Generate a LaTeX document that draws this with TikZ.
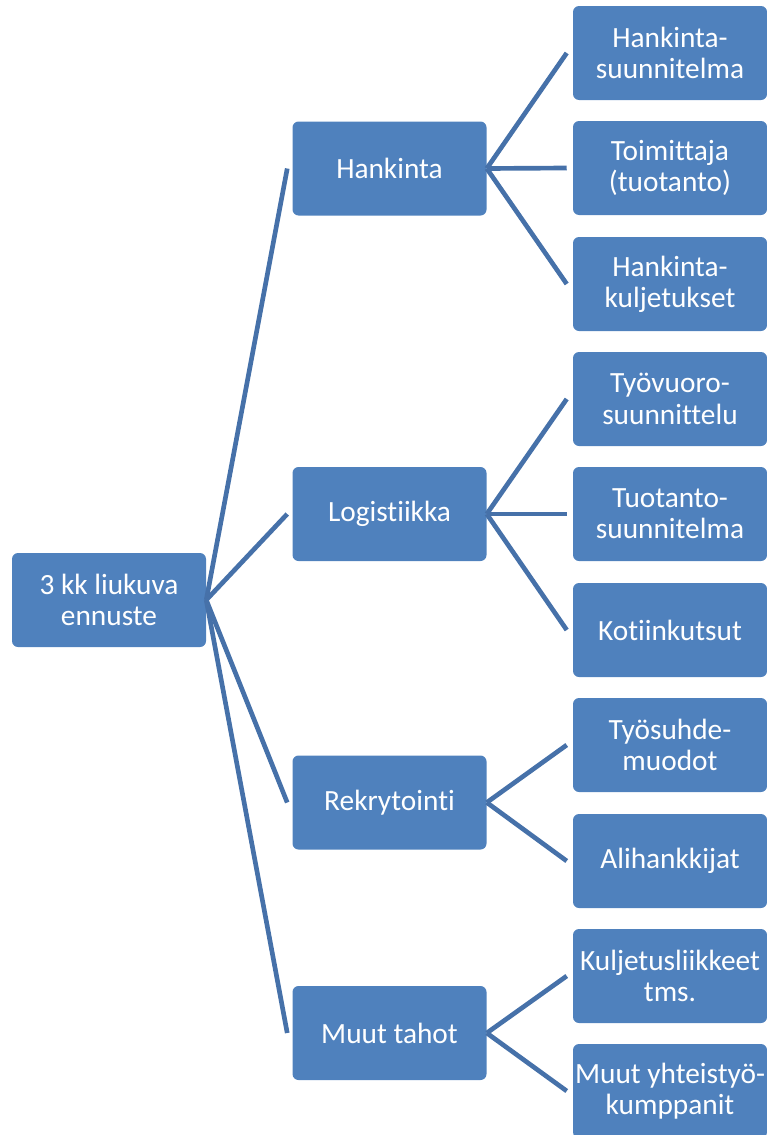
\documentclass[tikz,border=0pt]{standalone}
\usepackage{fontspec}
\setmainfont[RawFeature={-liga;-clig;-dlig}]{Carlito}
\definecolor{boxblue}{HTML}{4F81BD}
\definecolor{lineblue}{HTML}{4671A9}
\begin{document}
\begin{tikzpicture}[x=0.75pt,y=-0.75pt,
  bx/.style={fill=boxblue,draw=none,rounded corners=4.5pt,text=white,
    minimum width=145.5pt,minimum height=70.5pt,inner sep=0pt,align=center,
    font=\fontsize{22}{23.5}\selectfont},
  conn/.style={draw=lineblue,line width=3.5pt}]
\useasboundingbox (0,0) rectangle (767,1135);
\node[bx] (root) at (109,600) {3 kk liukuva\\ennuste};
\node[bx] (h) at (389.5,168.5) {Hankinta};
\node[bx] (l) at (389.5,514) {Logistiikka};
\node[bx] (r) at (389.5,802.5) {Rekrytointi};
\node[bx] (m) at (389.5,1033) {Muut tahot};
\node[bx] (c1) at (670,53) {Hankinta-\\suunnitelma};
\node[bx] (c2) at (670,168) {Toimittaja\\(tuotanto)};
\node[bx] (c3) at (670,284) {Hankinta-\\kuljetukset};
\node[bx] (c4) at (670,399) {Työvuoro-\\suunnittelu};
\node[bx] (c5) at (670,514) {Tuotanto-\\suunnitelma};
\node[bx] (c6) at (670,630) {Kotiinkutsut};
\node[bx] (c7) at (670,745) {Työsuhde-\\muodot};
\node[bx] (c8) at (670,861) {Alihankkijat};
\node[bx] (c9) at (670,976) {Kuljetusliikkeet\\tms.};
\node[bx] (c10) at (670,1091) {Muut yhteistyö-\\kumppanit};
\foreach \n in {h,l,r,m}
  \draw[conn] (root.east) -- ([xshift=-3.75pt]\n.west);
\foreach \p/\c in {h/c1,h/c2,h/c3,l/c4,l/c5,l/c6,r/c7,r/c8,m/c9,m/c10}
  \draw[conn] (\p.east) -- ([xshift=-4.5pt]\c.west);
\end{tikzpicture}
\end{document}
